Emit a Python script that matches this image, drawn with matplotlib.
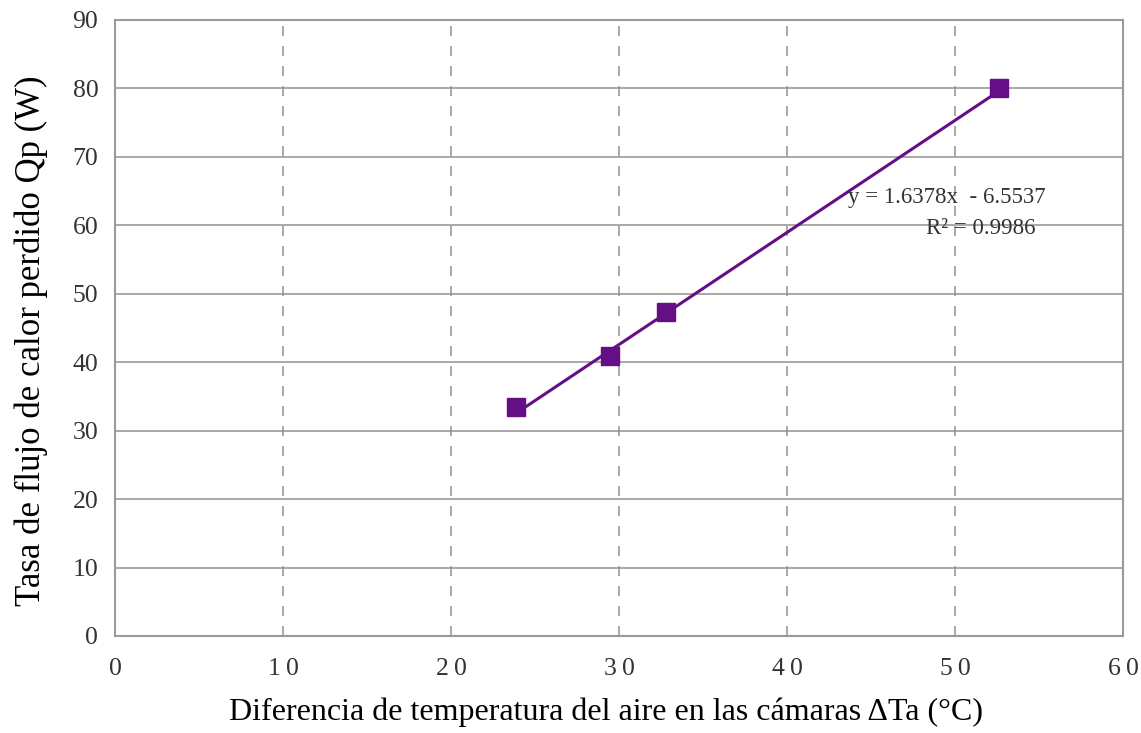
import matplotlib.pyplot as plt
import numpy as np

plt.rcParams['font.family'] = ['Liberation Serif', 'DejaVu Serif']

delta_t = [23.85, 29.46, 32.78, 52.62]
q_loss = [33.5, 40.95, 47.3, 80.0]
slope, intercept = 1.6378, -6.5537
r2 = 0.9986

x_ticks = [0, 10, 20, 30, 40, 50, 60]
y_ticks = [0, 10, 20, 30, 40, 50, 60, 70, 80, 90]

purple = '#650f87'
grey = '#9a9a9a'

fig = plt.figure(figsize=(11.41, 7.33), dpi=100)
ax = fig.add_axes([115 / 1141, 1 - 636 / 733, 1008 / 1141, 616 / 733])

# trendline across the data range
xs = np.array([min(delta_t), max(delta_t)])
ax.plot(xs, slope * xs + intercept, color=purple, lw=2.2, zorder=3)
ax.plot(delta_t, q_loss, 's', color=purple, ms=13, zorder=4)

ax.set_xlim(0, 60)
ax.set_ylim(0, 90)
ax.set_xticks(x_ticks)
ax.set_xticklabels(['\u2009'.join(str(t)) for t in x_ticks])
ax.set_yticks(y_ticks)
ax.tick_params(length=0, labelsize=18.5, colors='#333333')
ax.tick_params(axis='x', pad=16)
ax.tick_params(axis='y', pad=12)

for v in y_ticks[1:-1]:
    ax.axhline(v, color=grey, lw=1.2, zorder=1)
for v in x_ticks[1:-1]:
    ax.axvline(v, color=grey, lw=1.2, ls=(0, (6, 6)), zorder=1)
for s in ax.spines.values():
    s.set_color(grey)
    s.set_linewidth(1.5)

ax.text(55.4, 64.1, f'y = {slope}x  - {abs(intercept)}', ha='right', va='center',
        fontsize=16.5, color='#333333')
ax.text(54.8, 59.6, f'R² = {r2}', ha='right', va='center', fontsize=16.5, color='#333333')

ax.set_xlabel('Diferencia de temperatura del aire en las cámaras ΔTa (°C)', fontsize=23)
ax.xaxis.set_label_coords(0.487, -0.1)
ax.set_ylabel('Tasa de flujo de calor perdido Qp (W)', fontsize=25)
ax.yaxis.set_label_coords(-0.066, 0.48)

fig.savefig('out.png', dpi=100)
